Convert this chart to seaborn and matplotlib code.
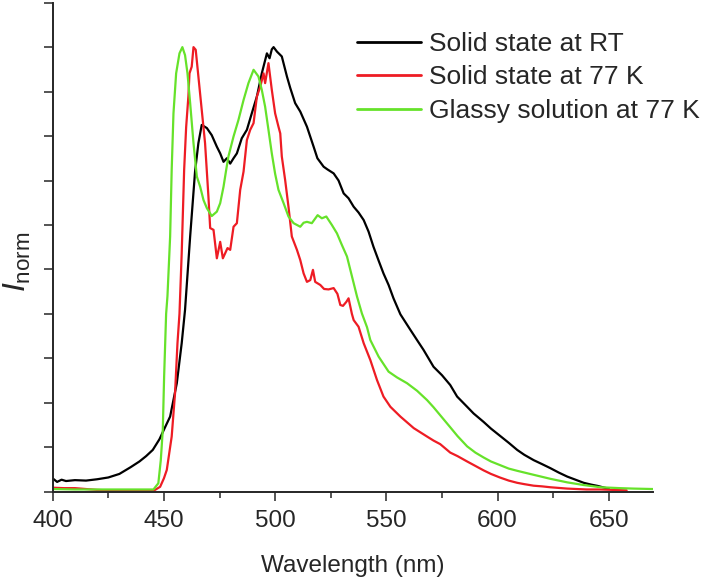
import numpy as np
import pandas as pd
import matplotlib
matplotlib.use("Agg")
import matplotlib.pyplot as plt
import seaborn as sns

# Emission spectra (wavelength in nm, normalised intensity)
rt_wl = [400, 402, 404, 406, 410, 415, 420, 425, 430, 435, 439, 442, 445, 448,
         451, 452.8, 455.8, 458, 459.5, 461.8, 464, 465.5, 467, 469.3, 471.5, 473.8,
         475.3, 476.8, 478.3, 479.8, 481.3, 482.8, 485, 487.3, 489.5, 491.8, 494,
         496.3, 497.5, 498.5, 499.3, 500.8, 503, 505.3, 506.8, 509, 511.3, 514.3,
         517.3, 519, 521.8, 523.5, 526.3, 528.5, 530.8, 533, 535.3, 537.5, 539.8,
         542, 544.2, 546.5, 548.7, 551, 553.2, 556.3, 560.8, 563.8, 566.7, 571.2,
         575, 578.7, 581.8, 586.3, 589.2, 593.7, 597, 601, 605, 608.8, 612, 616.2,
         620, 623.7, 627.5, 631.3, 635, 638.7, 642, 645, 648, 650]
rt_int = [0.030, 0.022, 0.027, 0.024, 0.026, 0.025, 0.028, 0.032, 0.040, 0.055,
          0.068, 0.080, 0.094, 0.118, 0.150, 0.169, 0.244, 0.334, 0.409, 0.574,
          0.720, 0.784, 0.825, 0.818, 0.802, 0.776, 0.761, 0.742, 0.750, 0.738,
          0.750, 0.761, 0.795, 0.814, 0.851, 0.889, 0.941, 0.986, 0.975, 0.995,
          1.000, 0.990, 0.979, 0.934, 0.908, 0.874, 0.855, 0.821, 0.776, 0.750,
          0.731, 0.725, 0.716, 0.700, 0.671, 0.660, 0.641, 0.628, 0.611, 0.585,
          0.551, 0.520, 0.491, 0.465, 0.435, 0.399, 0.364, 0.341, 0.319, 0.281,
          0.262, 0.240, 0.214, 0.191, 0.176, 0.157, 0.142, 0.126, 0.110, 0.094,
          0.083, 0.071, 0.062, 0.053, 0.043, 0.034, 0.027, 0.020, 0.016, 0.013,
          0.009, 0.007]

k77_wl = [400, 405, 410, 415, 420, 425, 430, 435, 440, 444, 446, 448.3, 450,
          451.3, 452.5, 453.5, 455, 456.1, 457, 458, 459.1, 460, 461, 461.5, 462.5,
          463.3, 464.3, 465.5, 467, 468.5, 470, 470.8, 472.3, 473.8, 475.3, 476.5,
          478.6, 479.8, 481.3, 482.8, 484.3, 485.8, 487.3, 488.8, 490.3, 491.8,
          493.3, 494.8, 495.5, 497, 498.5, 500, 501.5, 502.3, 503, 504.5, 506,
          507.5, 509.8, 511.3, 512.8, 514.3, 515.8, 517, 518, 520.3, 522, 524,
          526.3, 528, 529.3, 530.5, 532, 533, 534.5, 535.3, 537.5, 539.8, 542.8,
          545.8, 548.7, 551.8, 556.3, 562.3, 568.3, 571.2, 574.2, 578.7, 582,
          586.3, 590, 593.7, 597, 601, 605, 608.8, 612, 616.2, 620, 623.7, 631.3,
          640, 646.3, 652, 658]
k77_int = [0.009, 0.008, 0.008, 0.006, 0.004, 0.003, 0.003, 0.003, 0.003, 0.003,
           0.004, 0.011, 0.030, 0.049, 0.090, 0.124, 0.221, 0.334, 0.400, 0.536,
           0.724, 0.820, 0.889, 0.941, 0.956, 1.000, 0.994, 0.934, 0.859, 0.784,
           0.665, 0.593, 0.589, 0.525, 0.562, 0.525, 0.548, 0.544, 0.596, 0.604,
           0.679, 0.720, 0.791, 0.814, 0.829, 0.889, 0.911, 0.941, 0.919, 0.964,
           0.904, 0.851, 0.821, 0.806, 0.754, 0.701, 0.641, 0.574, 0.544, 0.521,
           0.491, 0.472, 0.476, 0.499, 0.472, 0.465, 0.456, 0.455, 0.458, 0.445,
           0.420, 0.418, 0.427, 0.435, 0.400, 0.386, 0.371, 0.334, 0.296, 0.251,
           0.214, 0.191, 0.169, 0.143, 0.124, 0.115, 0.107, 0.088, 0.080, 0.068,
           0.058, 0.048, 0.040, 0.032, 0.025, 0.020, 0.017, 0.0135, 0.012, 0.010,
           0.007, 0.005, 0.005, 0.004, 0.003]

glass_wl = [400, 410, 420, 430, 440, 445.3, 447.5, 448.6, 449.5, 450.1, 451,
            451.6, 452.8, 453.5, 454.3, 455.5, 457, 458.3, 459.5, 460.6, 461.8,
            463.3, 464.8, 466.3, 467.8, 469.3, 471.5, 473.8, 475.3, 476.8, 478,
            479, 481.3, 483.5, 485.8, 488, 490.3, 492.5, 494, 495.5, 497, 498.5,
            500, 501.5, 503.8, 506, 508.3, 511.3, 512.8, 514.3, 516.5, 519.1, 521,
            523, 525.5, 527.8, 530, 532.3, 533.8, 535.3, 536.8, 539, 541.3, 542.8,
            546.5, 551, 554.8, 559.3, 563.8, 568.3, 571.2, 574.2, 578.7, 582,
            586.3, 590, 593.7, 597, 601, 605, 608.8, 616.2, 623.7, 631.3, 638.7,
            646.3, 655, 661, 670]
glass_int = [0.006, 0.005, 0.005, 0.005, 0.005, 0.005, 0.019, 0.071, 0.139, 0.259,
             0.400, 0.440, 0.574, 0.724, 0.851, 0.941, 0.986, 1.000, 0.982, 0.941,
             0.874, 0.784, 0.709, 0.686, 0.656, 0.638, 0.620, 0.630, 0.649, 0.686,
             0.724, 0.754, 0.799, 0.836, 0.881, 0.919, 0.949, 0.934, 0.904, 0.866,
             0.814, 0.761, 0.715, 0.679, 0.649, 0.619, 0.604, 0.596, 0.605, 0.607,
             0.604, 0.622, 0.615, 0.619, 0.600, 0.581, 0.555, 0.529, 0.499, 0.469,
             0.439, 0.401, 0.370, 0.341, 0.304, 0.270, 0.257, 0.244, 0.227, 0.206,
             0.190, 0.172, 0.145, 0.125, 0.102, 0.088, 0.077, 0.068, 0.060, 0.052,
             0.047, 0.038, 0.029, 0.021, 0.015, 0.010, 0.008, 0.007, 0.006]

labels = ["Solid state at RT", "Solid state at 77 K", "Glassy solution at 77 K"]
colors = ["#000000", "#ee1c24", "#66e22a"]
x_ticks = [400, 450, 500, 550, 600, 650]

frames = []
for name, wl, inten in zip(labels, [rt_wl, k77_wl, glass_wl],
                           [rt_int, k77_int, glass_int]):
    frames.append(pd.DataFrame({"wl": wl, "I": inten, "sample": name}))
df = pd.concat(frames, ignore_index=True)

sns.set_theme(style="ticks")
plt.rcParams["font.family"] = ["Liberation Sans", "DejaVu Sans"]
plt.rcParams["mathtext.fontset"] = "custom"
plt.rcParams["mathtext.it"] = "Liberation Sans:italic"
plt.rcParams["mathtext.rm"] = "Liberation Sans"

fig = plt.figure(figsize=(7.06, 5.81), dpi=100)
ax = fig.add_axes([0.0746, 0.1537, 0.8508, 0.8417])

sns.lineplot(data=df, x="wl", y="I", hue="sample", hue_order=labels,
             palette=dict(zip(labels, colors)), estimator=None, sort=False,
             linewidth=1.6, ax=ax)

ax.set_xlim(400, 670)
ax.set_ylim(0, 1.1)
ax.set_xticks(x_ticks)
ax.set_xticks(np.arange(425, 670, 50), minor=True)
ax.set_yticks(np.arange(0, 1.11, 0.1))
ax.set_yticklabels([])
ax.tick_params(axis="x", which="major", length=6.5, width=1.1, labelsize=17.5, pad=6.5)
ax.tick_params(axis="x", which="minor", length=4.3, width=1.1)
ax.tick_params(axis="y", which="major", length=6.5, width=1.1)
for side in ["left", "bottom"]:
    ax.spines[side].set_linewidth(1.4)
sns.despine(ax=ax)

ax.set_xlabel("Wavelength (nm)", fontsize=17.5, labelpad=17)
ax.set_ylabel(r"$I_{\mathregular{norm}}$", fontsize=23)
ax.yaxis.set_label_coords(-0.033, 0.47)

leg = ax.legend(loc="upper left", bbox_to_anchor=(0.505, 0.945),
                bbox_transform=fig.transFigure, frameon=False, fontsize=19,
                handlelength=2.45, handletextpad=0.3, labelspacing=0.36,
                borderpad=0, borderaxespad=0)
for line in leg.get_lines():
    line.set_linewidth(2)

fig.savefig("out.png", dpi=100)
